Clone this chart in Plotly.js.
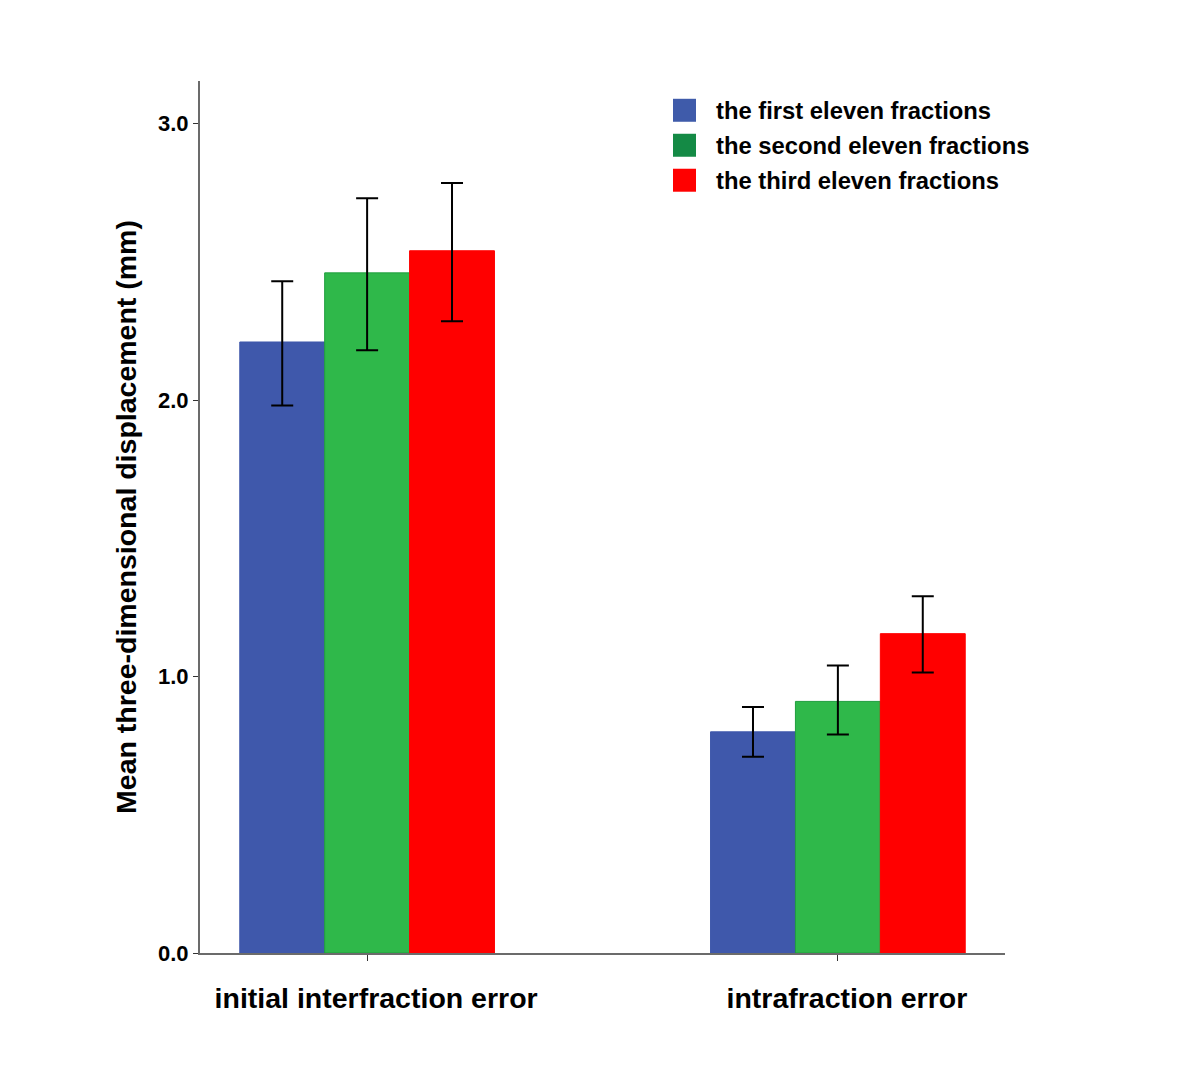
<!DOCTYPE html>
<html>
<head>
<meta charset="utf-8">
<script src="https://cdn.plot.ly/plotly-3.0.1.min.js"></script>
<style>html,body{margin:0;padding:0;background:#fff;}#chart{width:1200px;height:1080px;}</style>
</head>
<body>
<div id="chart"></div>
<script>
const categories = ["initial interfraction error", "intrafraction error"];
const seriesNames = ["the first eleven fractions", "the second eleven fractions", "the third eleven fractions"];
const firstMeans = [2.21, 0.80];
const firstErrUpper = [2.43, 0.89];
const firstErrLower = [1.98, 0.71];
const secondMeans = [2.46, 0.91];
const secondErrUpper = [2.73, 1.04];
const secondErrLower = [2.18, 0.79];
const thirdMeans = [2.54, 1.155];
const thirdErrUpper = [2.785, 1.29];
const thirdErrLower = [2.285, 1.015];
const yTickVals = [0, 1, 2, 3];
const yTickText = ["0.0", "1.0", "2.0", "3.0"];

const barColors = ["#3F58AB", "#2FB84A", "#FF0000"];
const barLineColors = ["#3F58AB", "#1F9E3E", "#FF0000"];
const legendColors = ["#3F5BAA", "#148A45", "#FF0000"];

const means = [firstMeans, secondMeans, thirdMeans];
const uppers = [firstErrUpper, secondErrUpper, thirdErrUpper];
const lowers = [firstErrLower, secondErrLower, thirdErrLower];

const traces = means.map((m, i) => ({
  type: "bar",
  x: categories,
  y: m,
  name: seriesNames[i],
  marker: {color: barColors[i], line: {color: barLineColors[i], width: 1}},
  error_y: {
    type: "data",
    symmetric: false,
    array: m.map((v, j) => uppers[i][j] - v),
    arrayminus: m.map((v, j) => v - lowers[i][j]),
    color: "#000",
    thickness: 2,
    width: 11
  },
  showlegend: false
}));

const shapes = [];
const annotations = [];
seriesNames.forEach((n, i) => {
  const yc = 110 + i * 35; // pixel row centre
  shapes.push({type: "rect", xref: "paper", yref: "paper",
    x0: (673 - 200) / 805, x1: (696 - 200) / 805,
    y0: (953.3 - (yc + 11.5)) / 872.6, y1: (953.3 - (yc - 11.5)) / 872.6,
    fillcolor: legendColors[i], line: {width: 0}});
  annotations.push({xref: "paper", yref: "paper",
    x: (714 - 200) / 805, y: (953.3 - yc) / 872.6,
    xanchor: "left", yanchor: "middle", showarrow: false, text: n,
    font: {family: "Liberation Sans, Arial, sans-serif", size: 23.8, color: "#000", weight: "bold"}});
});

const layout = {
  width: 1200, height: 1080,
  paper_bgcolor: "#fff", plot_bgcolor: "#fff",
  margin: {l: 200, r: 195, t: 80.7, b: 126.7},
  barmode: "group",
  bargap: 0.459,
  bargroupgap: 0,
  xaxis: {
    type: "category",
    range: [-0.355, 1.355],
    showline: true, linecolor: "#6b6b6b", linewidth: 2,
    ticks: "outside", ticklen: 6, tickwidth: 1, tickcolor: "#333",
    showgrid: false, zeroline: false,
    ticklabelshift: 9, ticklabelstandoff: 13,
    tickfont: {family: "Liberation Sans, Arial, sans-serif", size: 28.5, color: "#000", weight: "bold"},
    fixedrange: true
  },
  yaxis: {
    range: [0, 3.154],
    tickvals: yTickVals, ticktext: yTickText,
    showline: true, linecolor: "#6b6b6b", linewidth: 2,
    ticks: "outside", ticklen: 5, tickwidth: 1, tickcolor: "#333",
    showgrid: false, zeroline: false,
    tickfont: {family: "Liberation Sans, Arial, sans-serif", size: 22, color: "#000", weight: "bold"},
    title: {text: "Mean three-dimensional displacement (mm)", standoff: 13,
      font: {family: "Liberation Sans, Arial, sans-serif", size: 28.5, color: "#000", weight: "bold"}},
    fixedrange: true
  },
  shapes: shapes,
  annotations: annotations,
  showlegend: false
};

Plotly.newPlot("chart", traces, layout, {displayModeBar: false, staticPlot: true});
</script>
</body>
</html>
